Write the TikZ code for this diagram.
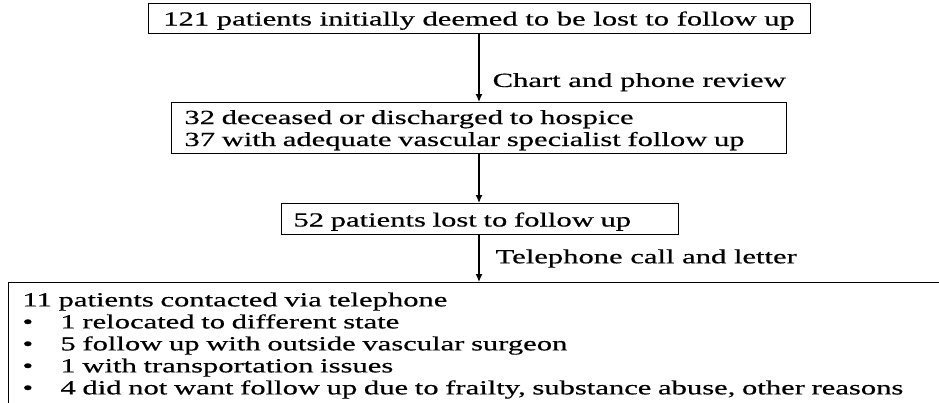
\documentclass[tikz,border=0pt]{standalone}
\usepackage{fontspec}
\setmainfont{Liberation Serif}[FakeStretch=1.53,FakeBold=0.5]
\usetikzlibrary{arrows.meta}
\begin{document}
\begin{tikzpicture}[x=1pt,y=-1pt,
  txt/.style={font=\fontsize{20}{22}\selectfont},
  box/.style={txt,draw=black,line width=1pt},
  lbl/.style={txt,inner sep=0pt,anchor=west},
  arr/.style={line width=1.3pt,-{Latex[length=8pt,width=7pt]}}]
\useasboundingbox (0,0) rectangle (939,402);
\clip (0,0) rectangle (939,402);
\node[box,minimum width=662pt,minimum height=30pt,inner sep=0pt,text height=15pt,text depth=0pt] (b1) at (479,18) {121 patients initially deemed to be lost to follow up};
\node[box,anchor=north west,text width=589pt,inner xsep=13pt,inner ysep=0pt,minimum height=51pt,align=left,text height=18pt,text depth=26pt] (b2) at (171,102)
  {32 deceased or discharged to hospice\\37 with adequate vascular specialist follow up};
\node[box,anchor=north west,text width=373pt,inner xsep=12pt,inner ysep=0pt,minimum height=31pt,align=left,text height=15pt,text depth=0pt] (b3) at (281,203)
  {52 patients lost to follow up};
\node[box,anchor=north west,text width=922pt,inner xsep=14pt,inner ysep=10pt,align=left] (b4) at (8,282)
  {11 patients contacted via telephone\\
   \makebox[38pt][l]{•}1 relocated to different state\\
   \makebox[38pt][l]{•}5 follow up with outside vascular surgeon\\
   \makebox[38pt][l]{•}1 with transportation issues\\
   \makebox[38pt][l]{•}4 did not want follow up due to frailty, substance abuse, other reasons};
\draw[arr] (b1.south) -- (b1.south |- b2.north) node[lbl,pos=0.71,xshift=13pt] {Chart and phone review};
\draw[arr] (b2.south -| b1.south) -- (b1.south |- b3.north);
\draw[arr] (b3.south -| b1.south) -- (b1.south |- b4.north) node[lbl,pos=0.5,xshift=16pt] {Telephone call and letter};
\end{tikzpicture}
\end{document}
